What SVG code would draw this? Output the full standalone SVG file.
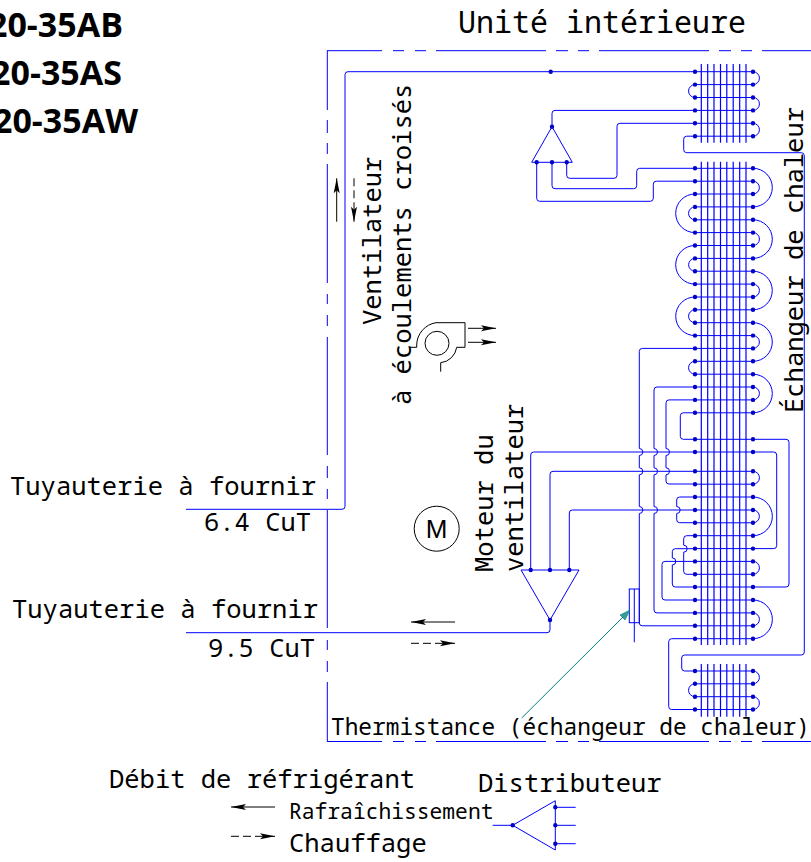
<svg xmlns="http://www.w3.org/2000/svg" width="811" height="862" viewBox="0 0 811 862">
<style>
text{font-family:"Noto Sans Mono","DejaVu Sans Mono","Liberation Mono",monospace;fill:#000;font-size:25.5px}
.b{font-family:"Open Sans","Noto Sans",sans-serif;font-weight:700;font-size:34px;text-anchor:end}
.p{fill:none;stroke:#0000ff;stroke-width:1}
.f{fill:none;stroke:#0000ff;stroke-width:1.2}
.k{fill:none;stroke:#000;stroke-width:1}
.d{fill:none;stroke:#0000c8;stroke-width:4.4;stroke-linecap:round}
</style>
<defs>
<marker id="ah" markerUnits="userSpaceOnUse" markerWidth="16" markerHeight="8" refX="15" refY="4" orient="auto"><path d="M0 1L15 4L0 7L3 4z" fill="#000"/></marker>
</defs>

<g id="enclosure">
<path class="p" d="M327.300 50.700V110M327.300 120V133M327.300 143V154M327.300 164V283M327.300 294V304M327.300 315V326M327.300 337V455M327.300 466V478M327.300 489V499M327.300 510V628M327.300 640V650M327.300 661V672M327.300 682V741.500"/>
<path class="p" d="M327 50.700H382M393 50.700H404M415 50.700H426M436 50.700H546M556 50.700H568M578 50.700H589M599 50.700H709M719 50.700H731M741 50.700H752M762 50.700H811"/>
<path class="p" d="M327 741.500H382M393 741.500H404M415 741.500H426M436 741.500H546M556 741.500H568M578 741.500H589M599 741.500H709M719 741.500H731M741 741.500H752M762 741.500H811" stroke-width="1.300"/>
</g>

<g id="connectors">
<path class="p" d="M186 509.300H342Q345 509.300 345 506.300V74.700Q345 71.700 348 71.700H695"/>
<path class="p" d="M186 632.700H547Q550 632.700 550 629.700V620"/>
<path class="p" d="M552 126.700V113.400Q552 110.400 555 110.400H695"/>
<path class="p" d="M695 123.300H620Q617 123.300 617 126.300V175.300Q617 178.300 614 178.300H569.700Q566.700 178.300 566.700 175.300V162.300"/>
<path class="p" d="M552 162.300V185.700Q552 188.700 555 188.700H633.700Q636.700 188.700 636.700 185.700V171.300Q636.700 168.300 639.700 168.300H695"/>
<path class="p" d="M536.700 162.300V198.300Q536.700 201.300 539.700 201.300H650.300Q653.300 201.300 653.300 198.300V184.200Q653.300 181.200 656.300 181.200H695"/>
<path class="p" d="M695 136.200H686.700Q683.700 136.200 683.700 139.200V149.700Q683.700 152.700 686.700 152.700H801.300Q804.300 152.700 804.300 155.700V652Q804.300 655 801.300 655H684.700Q681.700 655 681.700 658V668Q681.700 671 684.700 671H695"/>
<path class="p" d="M695 348.400H642.300Q639.300 348.400 639.300 351.400V448.500a3.500 3.500 0 0 1 0 7V467.800a3.500 3.500 0 0 1 0 7V506.500a3.500 3.500 0 0 1 0 7V622.800Q639.300 625.800 642.300 625.800H695"/>
<path class="p" d="M695 387H657Q654 387 654 390V448.500a3.500 3.500 0 0 1 0 7V467.800a3.500 3.500 0 0 1 0 7V506.500a3.500 3.500 0 0 1 0 7V609.900Q654 612.900 657 612.900H695"/>
<path class="p" d="M695 399.900H669Q666 399.900 666 402.900V448.500a3.500 3.500 0 0 1 0 7V467.800a3.500 3.500 0 0 1 0 7V481Q666 484 669 484H695"/>
<path class="p" d="M530.700 570V455Q530.700 452 533.700 452H695"/>
<path class="p" d="M550 570V474.300Q550 471.300 553 471.300H695"/>
<path class="p" d="M569.300 570V513Q569.300 510 572.300 510H695"/>
<path class="p" d="M695 497H679.700Q676.700 497 676.700 500V506.500a3.500 3.500 0 0 1 0 7V519.700Q676.700 522.700 679.700 522.700H695"/>
<path class="p" d="M695 412.800H683.300Q680.300 412.800 680.300 415.800V436.300Q680.300 439.300 683.300 439.300H786Q789 439.300 789 442.300V584Q789 587 786 587H675.300Q672.300 587 672.300 584V564.900a3.500 3.500 0 0 0 0 -7V551.700Q672.300 548.700 675.300 548.700H695"/>
<path class="p" d="M695 535.700H686.700Q683.700 535.700 683.700 538.700V545.200a3.500 3.500 0 0 1 0 7V571.300Q683.700 574.300 686.700 574.300H695"/>
<path class="p" d="M695 561.400H665Q662 561.400 662 564.400V597Q662 600 665 600H695"/>
<path class="p" d="M753 452H773.700Q776.700 452 776.700 455V545.600Q776.700 548.600 773.700 548.600H753"/>
<path class="p" d="M695 638.700H671.700Q668.700 638.700 668.700 641.700V706.500Q668.700 709.500 671.700 709.500H695"/>
</g>

<g id="coil-top">
<path class="f" d="M701.300 64V142.700M707.700 64V142.700M714 64V142.700M720.500 64V142.700M726.800 64V142.700M733.200 64V142.700M739.700 64V142.700M746 64V142.700"/>
<path class="p" d="M695 71.700H753M695 84.600H753M695 97.500H753M695 110.400H753M695 123.300H753M695 136.200H753"/>
<path class="p" d="M753 71.700A6.450 6.450 0 0 1 753 84.600M753 97.500A6.450 6.450 0 0 1 753 110.400M753 123.300A6.450 6.450 0 0 1 753 136.200M695 84.600A6.450 6.450 0 0 0 695 97.500"/>
<path class="d" d="M695 71.700h0M695 84.600h0M695 97.500h0M695 110.400h0M695 123.300h0M695 136.200h0M753 71.700h0M753 84.600h0M753 97.500h0M753 110.400h0M753 123.300h0M753 136.200h0"/>
</g>

<g id="coil-main">
<path class="f" d="M701.300 161.700V645M707.700 161.700V645M714 161.700V645M720.500 161.700V645M726.800 161.700V645M733.200 161.700V645M739.700 161.700V645M746 161.700V645"/>
<path class="p" d="M695 168.300H753M695 181.200H753M695 194H753M695 206.900H753M695 219.800H753M695 232.600H753M695 245.500H753M695 258.400H753M695 271.200H753M695 284.100H753M695 297H753M695 309.800H753M695 322.700H753M695 335.600H753M695 348.400H753M695 361.300H753M695 374.200H753M695 387H753M695 399.900H753M695 412.800H753M695 452H753M695 471.300H753M695 484.200H753M695 497H753M695 510H753M695 522.800H753M695 535.700H753M695 548.600H753M695 561.400H753M695 574.300H753M695 600H753M695 612.900H753M695 625.800H753M695 638.700H753"/>
<path class="p" d="M753 168.300A19.300 19.300 0 0 1 753 206.900M753 181.200A6.400 6.400 0 0 1 753 194M753 219.800A19.300 19.300 0 0 1 753 258.400M753 232.600A6.450 6.450 0 0 1 753 245.500M753 271.200A19.300 19.300 0 0 1 753 309.800M753 284.100A6.450 6.450 0 0 1 753 297M753 322.700A19.300 19.300 0 0 1 753 361.300M753 335.600A6.400 6.400 0 0 1 753 348.400M753 374.200A19.300 19.300 0 0 1 753 412.800M753 387A6.450 6.450 0 0 1 753 399.900M753 471.300A6.450 6.450 0 0 1 753 484.200M753 497A19.350 19.350 0 0 1 753 535.700M753 510A6.400 6.400 0 0 1 753 522.800M753 561.400A6.450 6.450 0 0 1 753 574.300M753 600A19.350 19.350 0 0 1 753 638.700M753 612.900A6.450 6.450 0 0 1 753 625.800"/>
<path class="p" d="M695 194A19.300 19.300 0 0 0 695 232.600M695 206.900A6.450 6.450 0 0 0 695 219.800M695 245.500A19.300 19.300 0 0 0 695 284.100M695 258.400A6.400 6.400 0 0 0 695 271.200M695 297A19.300 19.300 0 0 0 695 335.600M695 309.800A6.450 6.450 0 0 0 695 322.700M695 361.300A6.450 6.450 0 0 0 695 374.200"/>
<path class="d" d="M695 168.300h0M695 181.200h0M695 194h0M695 206.900h0M695 219.800h0M695 232.600h0M695 245.500h0M695 258.400h0M695 271.200h0M695 284.100h0M695 297h0M695 309.800h0M695 322.700h0M695 335.600h0M695 348.400h0M695 361.300h0M695 374.200h0M695 387h0M695 399.900h0M695 412.800h0M695 439.300h0M695 452h0M695 471.300h0M695 484.200h0M695 497h0M695 510h0M695 522.800h0M695 535.700h0M695 548.600h0M695 561.400h0M695 574.300h0M695 587h0M695 600h0M695 612.900h0M695 625.800h0M695 638.700h0"/>
<path class="d" d="M753 168.300h0M753 181.200h0M753 194h0M753 206.900h0M753 219.800h0M753 232.600h0M753 245.500h0M753 258.400h0M753 271.200h0M753 284.100h0M753 297h0M753 309.800h0M753 322.700h0M753 335.600h0M753 348.400h0M753 361.300h0M753 374.200h0M753 387h0M753 399.900h0M753 412.800h0M753 439.300h0M753 452h0M753 471.300h0M753 484.200h0M753 497h0M753 510h0M753 522.800h0M753 535.700h0M753 548.600h0M753 561.400h0M753 574.300h0M753 587h0M753 600h0M753 612.900h0M753 625.800h0M753 638.700h0"/>
</g>

<g id="coil-bottom">
<path class="f" d="M701.300 664V716.700M707.700 664V716.700M714 664V716.700M720.500 664V716.700M726.800 664V716.700M733.200 664V716.700M739.700 664V716.700M746 664V716.700"/>
<path class="p" d="M695 671H753M695 683.800H753M695 696.700H753M695 709.500H753"/>
<path class="p" d="M753 671A6.400 6.400 0 0 1 753 683.800M753 696.700A6.400 6.400 0 0 1 753 709.500M695 683.800A6.450 6.450 0 0 0 695 696.700"/>
<path class="d" d="M695 671h0M695 683.800h0M695 696.700h0M695 709.500h0M753 671h0M753 683.800h0M753 696.700h0M753 709.500h0"/>
</g>

<g id="distributor-top">
<path class="p" d="M552 126.700L531.700 162.300H572.300Z"/>
<path class="d" d="M552 126.700h0M536.700 162.300h0M552 162.300h0M566.700 162.300h0M550.700 71.700h0" stroke-width="3.600"/>
</g>

<g id="distributor-motor">
<path class="p" d="M550 620L521 570H579Z"/>
<path class="d" d="M550 620h0M530.700 570h0M550 570h0M569.300 570h0" stroke-width="3.600"/>
</g>

<g id="thermistor">
<rect class="p" x="629.300" y="589" width="10" height="33.700"/>
<path class="p" d="M634.300 589V642.300"/>
<path d="M521.700 718L630 610" fill="none" stroke="#008080" stroke-width="1"/>
<path d="M630 610L625 620L620 615Z" fill="#3a9a9a" stroke="#008080" stroke-width=".6"/>
</g>

<g id="fan">
<circle class="k" cx="437" cy="343.300" r="12"/>
<path class="k" d="M410 347.300H416.700V345A23 23 0 0 1 436 322.700H465V347.300H456.700A18 18 0 0 1 440.700 362.700V371.700"/>
<path class="k" d="M468 328.300H496" marker-end="url(#ah)"/>
<path class="k" d="M468 342.300H496" marker-end="url(#ah)"/>
</g>

<g id="motor">
<circle class="k" cx="436.700" cy="528.700" r="22.500"/>
<text x="436.700" y="538.300" style="font-family:'Liberation Sans',sans-serif;font-size:26px" text-anchor="middle">M</text>
</g>

<g id="flow-arrows">
<path class="k" d="M336.700 221.700V178.300" marker-end="url(#ah)"/>
<path class="k" d="M354 178.300V221.700" stroke-dasharray="8 4" marker-end="url(#ah)"/>
<path class="k" d="M455 622H411" marker-end="url(#ah)"/>
<path class="k" d="M411 643.300H455" stroke-dasharray="8 4" marker-end="url(#ah)"/>
<path class="k" d="M275 807H231" marker-end="url(#ah)"/>
<path class="k" d="M231 836.300H275" stroke-dasharray="8 4" marker-end="url(#ah)"/>
</g>

<g id="distributor-legend">
<path class="p" d="M512.700 825.300L555.300 800.700V850Z"/>
<path class="p" d="M492.700 825.300H512.700M555.300 807.300H575.700M555.300 825.300H575.700M555.300 843.700H575.700"/>
<path class="d" d="M512.700 825.300h0M555.300 807.300h0M555.300 825.300h0M555.300 843.700h0" stroke-width="3.600"/>
</g>

<g id="labels">
<text class="b" x="123" y="37">20-35AB</text>
<text class="b" x="122" y="85">20-35AS</text>
<text class="b" x="138" y="133">20-35AW</text>
<text x="458" y="33.300" style="font-size:30px">Unité intérieure</text>
<text x="10" y="495">Tuyauterie à fournir</text>
<text x="204" y="531">6.4 CuT</text>
<text x="12" y="617.700">Tuyauterie à fournir</text>
<text x="208" y="656.700">9.5 CuT</text>
<text x="331" y="735" style="font-size:22.800px">Thermistance (échangeur de chaleur)</text>
<text x="109" y="788">Débit de réfrigérant</text>
<text x="289" y="819" style="font-size:21.300px">Rafraîchissement</text>
<text x="289" y="852">Chauffage</text>
<text x="478" y="792">Distributeur</text>
<text transform="translate(380.700 325) rotate(-90)">Ventilateur</text>
<text transform="translate(410.700 405) rotate(-90)">à écoulements croisés</text>
<text transform="translate(493 572) rotate(-90)">Moteur du</text>
<text transform="translate(523 572) rotate(-90)">ventilateur</text>
<text transform="translate(803 413) rotate(-90)">Échangeur de chaleur</text>
</g>
</svg>
